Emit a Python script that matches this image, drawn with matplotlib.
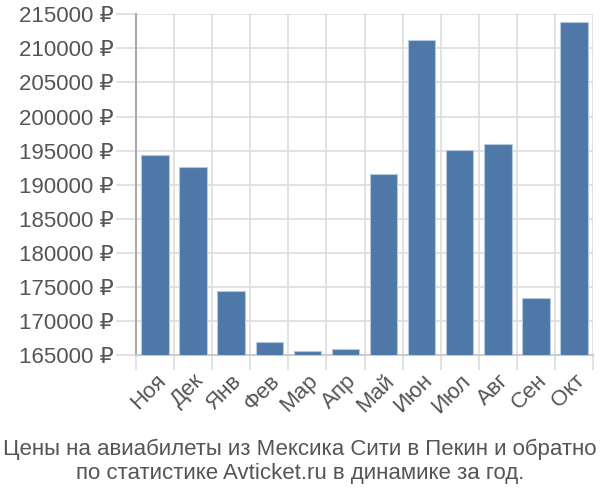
import matplotlib
matplotlib.use("Agg")
import matplotlib.pyplot as plt
from matplotlib.ticker import FixedLocator, FuncFormatter
from matplotlib.transforms import ScaledTranslation
import numpy as np

plt.rcParams['font.family'] = ['Liberation Sans', 'DejaVu Sans']

months = ["Ноя", "Дек", "Янв", "Фев", "Мар", "Апр", "Май", "Июн", "Июл", "Авг", "Сен", "Окт"]
prices = [194300, 192600, 174400, 166950, 165600, 165900, 191600, 211200, 195100, 195900, 173400, 213900]
yticks = [165000, 170000, 175000, 180000, 185000, 190000, 195000, 200000, 205000, 210000, 215000]
title = "Цены на авиабилеты из Мексика Сити в Пекин и обратно\nпо статистике Avticket.ru в динамике за год."

fig = plt.figure(figsize=(6, 5), dpi=100)
ax = fig.add_axes([136/600, 1 - 355/500, (593-136)/600, (355-14.3)/500])

x = np.arange(len(months))
ax.bar(x, prices, width=0.72, color='#4e78a7', edgecolor='#b8c8dc', linewidth=0.8, zorder=3)

ax.set_xlim(-0.5, len(months) - 0.5)
ax.set_ylim(165000, 215000)

ax.yaxis.set_major_locator(FixedLocator(yticks))
ax.yaxis.set_major_formatter(FuncFormatter(lambda v, p: f"{int(v)} ₽"))
ax.set_xticks(x)
ax.set_xticklabels(months, rotation=45, ha='right', rotation_mode='anchor')
ax.set_xticks(np.arange(-0.5, len(months)), minor=True)
off = ScaledTranslation(-3/100, 0, fig.dpi_scale_trans)
for lab in ax.get_xticklabels():
    lab.set_transform(lab.get_transform() + off)

ax.grid(True, which='major', axis='y', color='#dddddd', linewidth=1.2, zorder=0)
ax.grid(True, which='minor', axis='x', color='#dddddd', linewidth=1.2, zorder=0)

ax.tick_params(axis='x', which='major', length=0, labelsize=16, labelcolor='#555555', pad=11)
ax.tick_params(axis='x', which='minor', length=11, width=1.2, color='#dddddd')
ax.tick_params(axis='y', which='major', length=14.4, width=1.2, color='#dddddd', labelsize=16, labelcolor='#555555', pad=1.5)

for s in ['top', 'right']:
    ax.spines[s].set_visible(False)
ax.spines['left'].set_color('#aaaaaa')
ax.spines['left'].set_linewidth(1.5)
ax.spines['bottom'].set_color('#cccccc')
ax.spines['bottom'].set_linewidth(1.5)

fig.text(0.5, 1 - 461/500, title, ha='center', va='center', fontsize=16, color='#555555', linespacing=1.2)

fig.savefig("out.png", dpi=100)
